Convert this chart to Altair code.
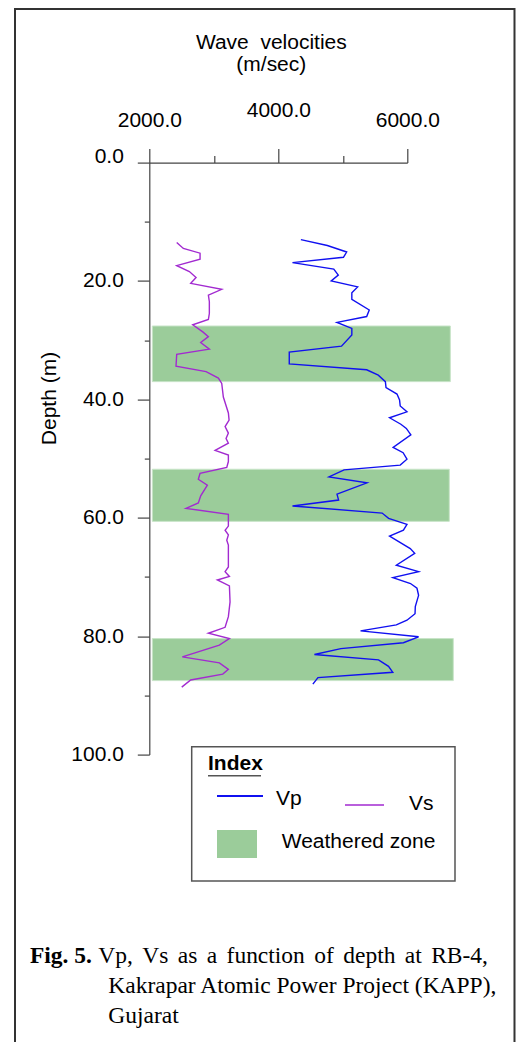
import altair as alt
import pandas as pd

# ---------------- data ----------------
vp_depth = [13.0, 14.0, 15.1, 16.0, 16.9, 18.0, 19.0, 20.0, 21.0, 22.0, 23.1, 24.9, 26.0,
            27.0, 28.0, 29.1, 31.0, 32.0, 34.0, 35.0, 35.9, 37.0, 38.0, 39.1, 40.1, 41.1,
            42.1, 43.1, 44.2, 44.9, 46.0, 48.1, 49.0, 50.1, 51.1, 51.9, 53.1, 54.1, 56.0,
            57.0, 58.0, 59.2, 60.1, 61.1, 62.1, 63.1, 65.2, 66.0, 68.0, 69.1, 70.1, 71.1,
            71.9, 73.1, 75.0, 76.2, 77.3, 78.1, 79.1, 80.1, 81.1, 82.1, 83.1, 84.0, 85.1,
            86.1, 87.0, 88.1]
vp_vel = [4350, 4760, 5060, 5010, 4220, 4860, 4930, 4820, 5230, 5140, 5140, 5410, 5370,
          4910, 5140, 5140, 4980, 4170, 4170, 5370, 5550, 5660, 5670, 5840, 5880, 5890,
          5995, 5725, 5900, 5985, 6055, 5780, 5935, 5995, 5890, 5020, 4785, 5375, 4910,
          4935, 4220, 5610, 5710, 5995, 5940, 5725, 6046, 6115, 5830, 6175, 5777, 6050,
          6150, 6175, 6124, 6120, 5995, 5830, 5275, 6175, 5940, 4970, 4560, 5554, 5709,
          5775, 4615, 4536]

vs_depth = [13.5, 14.5, 15.3, 16.3, 17.4, 18.4, 19.4, 20.4, 21.4, 22.4, 23.5, 25.5, 26.5,
            27.4, 28.6, 29.4, 30.4, 31.5, 32.4, 34.4, 35.3, 36.4, 37.3, 39.6, 42.3, 43.5,
            44.6, 45.7, 46.6, 47.4, 48.6, 49.4, 50.5, 51.5, 52.5, 53.5, 54.5, 56.3, 57.5,
            58.4, 59.4, 61.4, 62.1, 62.9, 63.8, 64.6, 68.3, 69.1, 69.9, 70.5, 71.5, 74.2,
            76.7, 78.5, 79.5, 80.4, 81.5, 83.5, 84.5, 85.6, 86.4, 87.4, 88.6]
vs_vel = [2425, 2528, 2787, 2787, 2425, 2621, 2725, 2642, 3123, 2916, 2931, 2931, 2916,
          2674, 2829, 2916, 2797, 2931, 2425, 2414, 2880, 3071, 3123, 3148, 3226, 3237,
          3175, 3226, 3190, 3226, 3020, 3226, 3226, 3201, 2787, 2760, 2900, 2797, 2760,
          2570, 3226, 3226, 3175, 3226, 3201, 3226, 3226, 3175, 3242, 3055, 3242, 3252,
          3226, 3175, 2916, 3242, 3086, 2512, 3086, 3226, 3139, 2642, 2503]

band_top = [27.6, 51.8, 80.4]
band_bottom = [37.0, 60.6, 87.5]
band_left = [2047, 2047, 2047]
band_right = [6667, 6651, 6713]

x_ticks = [2000, 3000, 4000, 5000, 6000]
y_ticks = [0, 10, 20, 30, 40, 50, 60, 70, 80, 90, 100]

x_title = ["Wave\u00a0 velocities", "(m/sec)"]
y_title = "Depth (m)"
legend_title = "Index"
series_names = ["Vp", "Vs"]
zone_name = "Weathered zone"
caption_bold = "Fig. 5."
caption_lines = ["Vp, Vs as a function of depth at RB-4,",
                 "Kakrapar Atomic Power Project (KAPP),",
                 "Gujarat"]

# ---------------- layout ----------------
OX, OY = 149.3, 162.6          # page position of the plot origin
W, H = 258, 592
TOTAL_W = 508                  # keep the svg inside the page body (no css rescale)


def px(x):
    return x - OX


def py(y):
    return y - OY


SANS = "Liberation Sans"
SERIF = "Liberation Serif"
AX = "#444444"
VP_COLOR = "#1010f0"
VS_COLOR = "#a22ad0"
ZONE = "#9bcc9a"
CAP_SIZE = 23.5

vp = pd.DataFrame({"depth": vp_depth, "vel": vp_vel, "i": list(range(len(vp_depth)))})
vs = pd.DataFrame({"depth": vs_depth, "vel": vs_vel, "i": list(range(len(vs_depth)))})
bands = pd.DataFrame({"depth": band_top, "depth2": band_bottom,
                      "vel": band_left, "vel2": band_right})
one = pd.DataFrame({"k": [0]})

x_axis = alt.Axis(
    orient="top", values=x_ticks, grid=False,
    labelExpr="datum.value % 2000 === 0 ? format(datum.value, '.1f') : ''",
    tickSize={"condition": {"test": "datum.value % 2000 === 0", "value": 14}, "value": 7},
    labelPadding={"condition": {"test": "datum.value === 4000", "value": 28}, "value": 18},
    labelFont=SANS, labelFontSize=21, labelColor="black",
    labelFlush=False, labelOverlap=False,
    domainColor=AX, tickColor=AX, domainWidth=1.2, tickWidth=1.2,
    title=x_title, titleFont=SANS, titleFontSize=21, titleFontWeight="normal",
    titleColor="black", titleX=121.5, titleY=-114.3, titleAlign="center",
    titleBaseline="alphabetic", titleLineHeight=22,
)
y_axis = alt.Axis(
    values=y_ticks, grid=False,
    labelExpr="datum.value % 20 === 0 ? format(datum.value, '.1f') : ''",
    tickSize={"condition": {"test": "datum.value % 20 === 0", "value": 12}, "value": 5},
    labelPadding=14,
    labelOffset={"condition": {"test": "datum.value === 0", "value": -6}, "value": 0},
    labelFont=SANS, labelFontSize=21, labelColor="black",
    labelFlush=False, labelOverlap=False,
    domainColor=AX, tickColor=AX, domainWidth=1.2, tickWidth=1.2,
    title=y_title, titleFont=SANS, titleFontSize=21, titleFontWeight="normal",
    titleColor="black", titleX=-100.3, titleY=235.4, titleAngle=270,
    titleAlign="center", titleBaseline="middle",
)

xs = alt.Scale(domain=[2000, 6000], nice=False, zero=False)
ys = alt.Scale(domain=[0, 100], reverse=True, nice=False, zero=False)


def X():
    return alt.X("vel:Q", scale=xs, axis=x_axis)


def Y():
    return alt.Y("depth:Q", scale=ys, axis=y_axis)


frame = alt.Chart(one).mark_rect(fillOpacity=0, stroke="#333333", strokeWidth=2).encode(
    x=alt.value(px(15)), x2=alt.value(px(514.5)), y=alt.value(py(9)), y2=alt.value(py(1300)))

band_layer = alt.Chart(bands).mark_rect(color=ZONE, stroke="#c8e4c8", strokeWidth=1).encode(
    x=X(), x2="vel2:Q", y=Y(), y2="depth2:Q")

vs_line = alt.Chart(vs).mark_line(color=VS_COLOR, strokeWidth=1.4).encode(
    x=X(), y=Y(), order="i:Q")
vp_line = alt.Chart(vp).mark_line(color=VP_COLOR, strokeWidth=1.4).encode(
    x=X(), y=Y(), order="i:Q")


def txt(s, x, y, size=21, font=SANS, weight="normal"):
    return alt.Chart(one).mark_text(align="left", baseline="alphabetic", font=font,
                                    fontSize=size, fontWeight=weight, color="black").encode(
        x=alt.value(px(x)), y=alt.value(py(y)), text=alt.value(s))


def hrule(x1, x2, y, color, width):
    return alt.Chart(one).mark_rule(color=color, strokeWidth=width).encode(
        x=alt.value(px(x1)), x2=alt.value(px(x2)), y=alt.value(py(y)))


# Times-metric advance widths (em) used to justify the first caption line
TIMES_W = {"V": .722, "p": .5, ",": .25, "s": .389, "a": .444, "f": .333, "u": .5,
           "n": .5, "c": .444, "t": .278, "i": .278, "o": .5, "d": .5, "e": .444,
           "h": .5, "R": .667, "B": .667, "-": .333, "4": .5}


def justified(line, x_left, x_right, y, size):
    words = line.split(" ")
    widths = [sum(TIMES_W.get(ch, .5) for ch in w) * size for w in words]
    gap = (x_right - x_left - sum(widths)) / (len(words) - 1)
    out, x = [], x_left
    for w, wd in zip(words, widths):
        out.append(txt(w, x, y, size=size, font=SERIF))
        x += wd + gap
    return out


legend_box = alt.Chart(one).mark_rect(fillOpacity=0, stroke="#555555", strokeWidth=1.5).encode(
    x=alt.value(px(191.7)), x2=alt.value(px(455)), y=alt.value(py(746.7)), y2=alt.value(py(881)))
legend_swatch = alt.Chart(one).mark_rect(color=ZONE).encode(
    x=alt.value(px(217)), x2=alt.value(px(257)), y=alt.value(py(830)), y2=alt.value(py(858)))

layers = [
    frame, band_layer, vs_line, vp_line,
    legend_box,
    txt(legend_title, 208, 770, weight="bold"),
    hrule(208, 261, 775.7, "#555555", 1.5),
    hrule(217, 263, 796, VP_COLOR, 2),
    txt(series_names[0], 276, 805),
    hrule(345, 384, 805, VS_COLOR, 1.5),
    txt(series_names[1], 409, 810.5),
    legend_swatch,
    txt(zone_name, 281.7, 848),
    txt(caption_bold, 30, 963.3, size=CAP_SIZE, font=SERIF, weight="bold"),
    *justified(caption_lines[0], 98.3, 488, 963.3, CAP_SIZE),
    txt(caption_lines[1], 108.3, 993.3, size=CAP_SIZE, font=SERIF),
    txt(caption_lines[2], 108.3, 1023.3, size=CAP_SIZE, font=SERIF),
]

chart = alt.layer(*layers).properties(
    width=W, height=H,
    autosize=alt.AutoSizeParams(type="none"),
    padding={"left": OX - 8, "top": OY - 8, "right": TOTAL_W - (OX - 8) - W, "bottom": 287},
    background="white",
).configure_view(strokeWidth=0)

chart.save("out.html", embed_options={"renderer": "svg", "actions": False})
